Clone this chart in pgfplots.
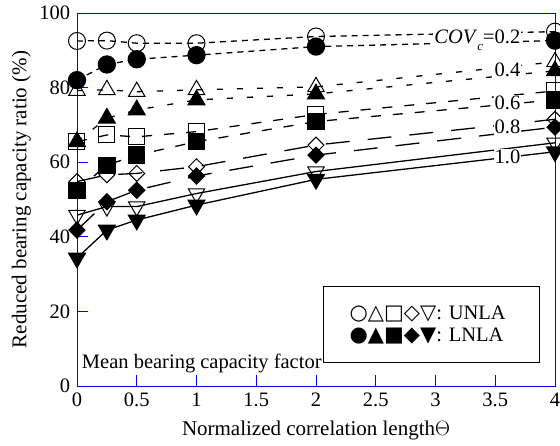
\documentclass[border=0pt]{standalone}
\usepackage{pgfplots}
\pgfplotsset{compat=1.18}
\usepackage{fontspec}
\setmainfont{Liberation Serif}
\newfontfamily\symfont{DejaVu Sans}
\begin{document}
\fontsize{20}{24}\selectfont
\begin{tikzpicture}
\useasboundingbox (-77pt,-59pt) rectangle (483pt,386pt);
\begin{axis}[
  at={(0,0)}, anchor=south west,
  scale only axis, width=478pt, height=373pt,
  xmin=0, xmax=4, ymin=0, ymax=100,
  xtick={0,0.5,...,4}, ytick={0,20,...,100},
  xticklabels={0,0.5,1,1.5,2,2.5,3,3.5,4},
  xtick pos=left, ytick pos=left, tick align=inside,
  major tick length=11pt,
  axis line style={blue, line width=0.9pt},
  tick style={blue, line width=0.9pt},
  /pgf/number format/assume math mode=true,
  tick label style={font=\fontsize{20.5}{24}\selectfont},
  label style={font=\fontsize{21}{24}\selectfont},
  xlabel={Normalized correlation length$\Theta$},
  ylabel={Reduced bearing capacity ratio (\%)},
  xlabel style={yshift=-1pt},
  ylabel style={yshift=-5pt},
  clip=false,
  every axis plot/.append style={black, line width=1.3pt},
]
% COV 0.2
\addplot[dash pattern=on 6pt off 5pt, mark=o, mark size=8.5pt, mark options={solid, fill=white, line width=1pt}] coordinates {(0,92.5)(0.25,92.6)(0.5,91.9)(1,91.9)(2,93.7)(4,95.0)};
\addplot[dash pattern=on 6pt off 5pt, mark=*, mark size=8.5pt, mark options={solid, fill=black}] coordinates {(0,82.0)(0.25,86.2)(0.5,87.6)(1,88.7)(2,91.0)(4,92.6)};
% COV 0.4
\addplot[dash pattern=on 6pt off 14pt, mark=triangle, mark size=9.5pt, mark options={solid, fill=white, line width=1pt}] coordinates {(0,79.2)(0.25,79.4)(0.5,78.9)(1,79.4)(2,80.2)(4,86.9)};
\addplot[dash pattern=on 6pt off 14pt, mark=triangle*, mark size=9.5pt, mark options={solid, fill=black}] coordinates {(0,65.5)(0.25,71.8)(0.5,74.0)(1,76.7)(2,78.3)(4,84.5)};
% COV 0.6
\addplot[dash pattern=on 10pt off 12pt, mark=square, mark size=8pt, mark options={solid, fill=white, line width=1pt}] coordinates {(0,65.5)(0.25,67.3)(0.5,66.8)(1,68.2)(2,72.8)(4,79.1)};
\addplot[dash pattern=on 10pt off 12pt, mark=square*, mark size=8pt, mark options={solid, fill=black}] coordinates {(0,52.5)(0.25,59.2)(0.5,61.9)(1,65.5)(2,70.9)(4,76.7)};
% COV 0.8
\addplot[dash pattern=on 24pt off 18pt, mark=square, mark size=5.6pt, mark options={solid, fill=white, rotate=45, line width=1pt}] coordinates {(0,54.8)(0.25,56.6)(0.5,57.0)(1,58.8)(2,64.6)(4,71.5)};
\addplot[dash pattern=on 24pt off 18pt, mark=square*, mark size=5.6pt, mark options={solid, fill=black, rotate=45}] coordinates {(0,41.8)(0.25,49.4)(0.5,52.5)(1,56.3)(2,61.9)(4,69.4)};
% COV 1.0
\addplot[solid, mark=triangle, mark size=9.5pt, mark options={solid, fill=white, rotate=180, line width=1pt}] coordinates {(0,45.8)(0.25,48.1)(0.5,48.1)(1,51.6)(2,57.5)(4,65.2)};
\addplot[solid, mark=triangle*, mark size=9.5pt, mark options={solid, fill=black, rotate=180}] coordinates {(0,34.3)(0.25,41.8)(0.5,44.5)(1,48.5)(2,55.4)(4,62.8)};
% labels
\begin{scope}[every node/.style={fill=white, inner sep=1pt, anchor=east, font=\fontsize{20.5}{24}\selectfont}]
\node at (axis cs:3.72,92.8) {\textit{COV}\raisebox{-7pt}{\fontsize{13}{14}\selectfont\textit{c}}=0.2};
\node at (axis cs:3.72,84.7) {0.4};
\node at (axis cs:3.72,76.0) {0.6};
\node at (axis cs:3.72,69.4) {0.8};
\node at (axis cs:3.72,61.4) {1.0};
\end{scope}
\draw[black, line width=0.9pt] (axis cs:2.06,6.2) rectangle (axis cs:3.87,26.8);
\node[anchor=west, align=left, inner sep=0pt, font=\fontsize{20.5}{22}\selectfont] at (axis cs:2.28,16.4) {{\symfont\fontsize{21}{22}\selectfont ○△□◇▽}: UNLA\\{\symfont\fontsize{21}{22}\selectfont ●▲■◆▼}: LNLA};
\node[anchor=south west, inner sep=0pt, font=\fontsize{20.5}{24}\selectfont] at (axis cs:0.04,3.5) {Mean bearing capacity factor};
\end{axis}
\end{tikzpicture}
\end{document}
